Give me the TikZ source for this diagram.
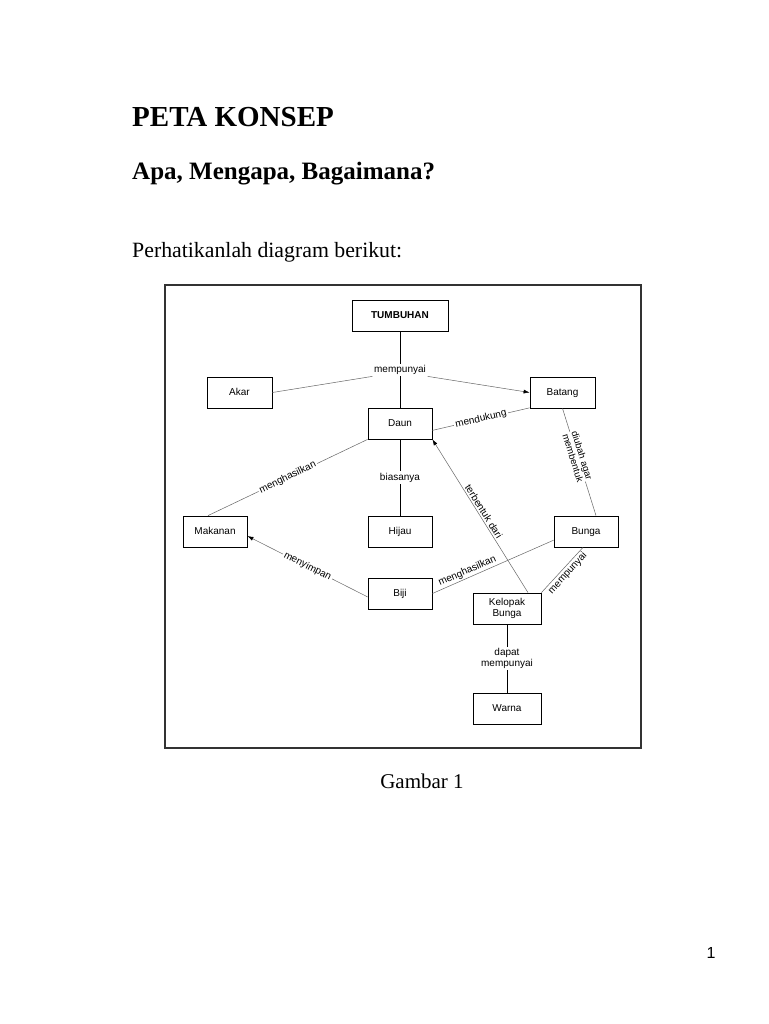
\documentclass[tikz,border=0pt]{standalone}
\usepackage{fontspec}
\setmainfont{Liberation Serif}
\newfontfamily\arialf{Liberation Sans}
\usetikzlibrary{arrows.meta,calc}
\tikzset{
  box/.style={draw=black, line width=0.8pt, minimum width=64pt, minimum height=31pt, inner sep=0pt, align=center, text height=7.2pt, text depth=1.6pt, font=\arialf\fontsize{10}{10.5}\selectfont},
  lbl/.style={fill=white, inner sep=1.5pt, align=center, font=\arialf\fontsize{10}{10.5}\selectfont},
  tlbl/.style={inner sep=1.5pt, font=\arialf\fontsize{10}{10.5}\selectfont},
  solidl/.style={draw=black, line width=0.9pt},
  grayl/.style={draw=black!60, line width=0.5pt},
  tip/.style={-{Latex[length=6pt,width=4pt,color=black]}},
  rtip/.style={{Latex[length=6pt,width=4pt,color=black]}-}
}
\begin{document}
\begin{tikzpicture}[x=1pt,y=-1pt]
\useasboundingbox (0,0) rectangle (768,1024);
\fill[white] (0,0) rectangle (768,1024);
% headings
\node[anchor=base west, inner sep=0pt, font=\fontsize{29}{31}\selectfont\bfseries] (title) at (132,127) {PETA KONSEP};
\node[anchor=base west, inner sep=0pt, font=\fontsize{25}{27}\selectfont\bfseries] (sub) at (132,180) {Apa, Mengapa, Bagaimana?};
\node[anchor=base west, inner sep=0pt, font=\fontsize{21.8}{24}\selectfont] (intro) at (132,257) {Perhatikanlah diagram berikut:};
% frame
\draw[line width=1.2pt, black!80] (165,285) rectangle (641,748);
% nodes
\node[box, font=\arialf\bfseries\fontsize{10}{10.5}\selectfont, minimum width=96pt] (tum) at (400,316) {TUMBUHAN};
\node[lbl] (mem) at (400,370) {mempunyai};
\node[box, minimum width=65pt] (akar) at (239.5,392.5) {Akar};
\node[box, minimum width=65pt] (batang) at (562.5,392.5) {Batang};
\node[box] (daun) at (400,423.5) {Daun};
\node[box] (makanan) at (215,531.5) {Makanan};
\node[box] (hijau) at (400,531.5) {Hijau};
\node[box] (bunga) at (586,531.5) {Bunga};
\node[box] (biji) at (400,593.5) {Biji};
\node[box, minimum width=68pt, text height=, text depth=] (kelopak) at (507,608.5) {Kelopak\\Bunga};
\node[box, minimum width=68pt] (warna) at (507,708.5) {Warna};
% connectors
\draw[solidl] (tum) -- (mem);
\draw[solidl] (mem) -- (daun);
\draw[grayl] (mem.south west) -- (akar.east);
\draw[grayl, tip] (mem.south east) -- (batang.west);
\draw[grayl] (daun.-12) -- node[lbl, sloped] {mendukung} (batang.205);
\draw[grayl] (daun.south west) -- node[lbl, sloped] {menghasilkan} ([xshift=-7pt]makanan.north);
\draw[solidl] (daun) -- node[lbl] {biasanya} (hijau);
\draw[grayl, rtip] (daun.south east) -- node[pos=0.49, sloped, above, tlbl] {terbentuk dari} ([xshift=21pt]kelopak.north);
\draw[grayl] (batang.south) -- node[pos=0.45, sloped, lbl, inner sep=1pt, font=\arialf\fontsize{9.5}{9.5}\selectfont] {diubah agar\\membentuk} ([xshift=10pt]bunga.north);
\draw[grayl] (biji.east) -- node[pos=0.31, sloped, above, tlbl] {menghasilkan} (bunga.195);
\draw[grayl] (kelopak.north east) -- node[pos=0.52, sloped, below, tlbl] {mempunyai} ([xshift=-3pt]bunga.south);
\draw[grayl, rtip] (makanan.-8) -- node[sloped, lbl] {menyimpan} (biji.186);
\draw[solidl] (kelopak) -- node[lbl] {dapat\\mempunyai} (warna);
% caption and page number
\node[anchor=base, inner sep=0pt, font=\fontsize{21}{23}\selectfont] (cap) at (422,788) {Gambar 1};
\node[anchor=base, inner sep=0pt, font=\arialf\fontsize{16}{18}\selectfont] (pg) at (711,958) {1};
\end{tikzpicture}
\end{document}
